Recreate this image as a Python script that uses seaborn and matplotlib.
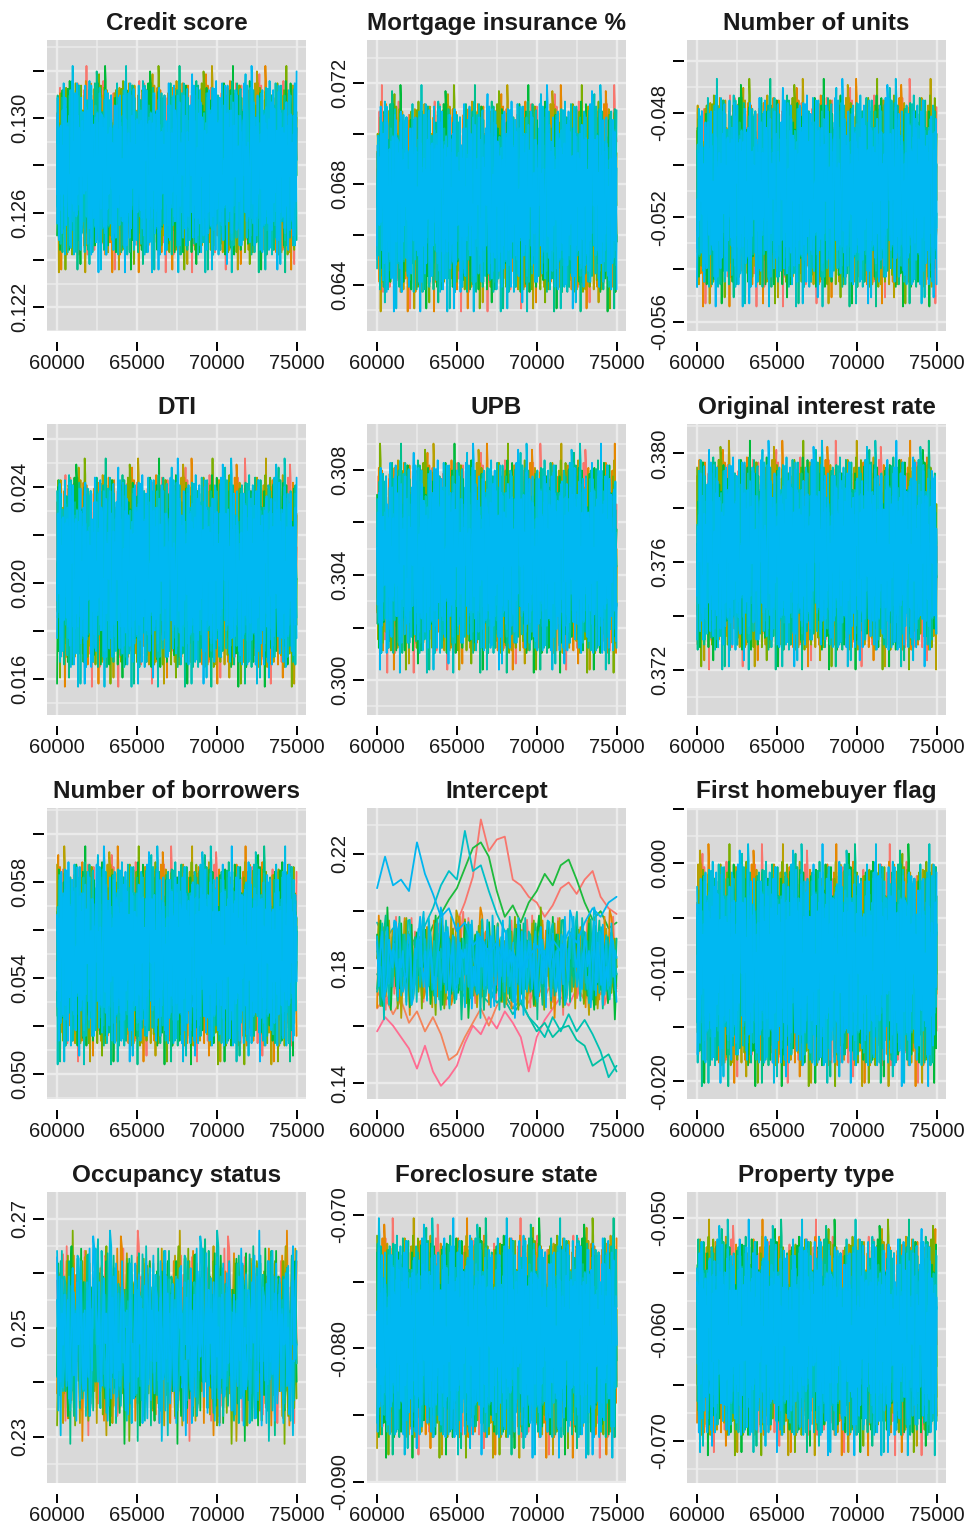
import numpy as np
import pandas as pd
import matplotlib
matplotlib.use("Agg")
import matplotlib.pyplot as plt
from matplotlib.ticker import MultipleLocator
import seaborn as sns

titles = ["Credit score", "Mortgage insurance %", "Number of units",
          "DTI", "UPB", "Original interest rate",
          "Number of borrowers", "Intercept", "First homebuyer flag",
          "Occupancy status", "Foreclosure state", "Property type"]

# centre and spread of the chain band in each panel
centres = [0.1279, 0.0675, -0.0510, 0.0205, 0.3047, 0.3763,
           0.0550, 0.1820, -0.0092, 0.2485, -0.0791, -0.0606]
spreads = [0.00165, 0.00170, 0.00165, 0.00180, 0.00165, 0.00160,
           0.00172, 0.0074, 0.0042, 0.0074, 0.0034, 0.0040]
n_draws = [400, 400, 400, 400, 400, 400, 400, 140, 400, 200, 400, 400]

ylims = [(0.1210, 0.1333), (0.06217, 0.07372), (-0.05636, -0.04521),
         (0.0145, 0.02663), (0.29867, 0.30975), (0.37033, 0.38109),
         (0.04895, 0.06108), (0.1344, 0.2360), (-0.02163, 0.00506),
         (0.22149, 0.27489), (-0.0901, -0.06827), (-0.0738, -0.0477)]
grid_steps = [0.001, 0.001, 0.001, 0.001, 0.001, 0.001,
              0.001, 0.01, 0.0025, 0.005, 0.0025, 0.0025]

yticks = [
    [0.122, 0.124, 0.126, 0.128, 0.130, 0.132],
    [0.064, 0.066, 0.068, 0.070, 0.072],
    [-0.056, -0.054, -0.052, -0.050, -0.048, -0.046],
    [0.016, 0.018, 0.020, 0.022, 0.024, 0.026],
    [0.300, 0.302, 0.304, 0.306, 0.308],
    [0.372, 0.374, 0.376, 0.378, 0.380],
    [0.050, 0.052, 0.054, 0.056, 0.058, 0.060],
    [0.14, 0.16, 0.18, 0.20, 0.22],
    [-0.020, -0.015, -0.010, -0.005, 0.000, 0.005],
    [0.23, 0.24, 0.25, 0.26, 0.27],
    [-0.090, -0.085, -0.080, -0.075, -0.070],
    [-0.070, -0.065, -0.060, -0.055, -0.050],
]
ytick_labels = [
    ["0.122", "", "0.126", "", "0.130", ""],
    ["0.064", "", "0.068", "", "0.072"],
    ["-0.056", "", "-0.052", "", "-0.048", ""],
    ["0.016", "", "0.020", "", "0.024", ""],
    ["0.300", "", "0.304", "", "0.308"],
    ["0.372", "", "0.376", "", "0.380"],
    ["0.050", "", "0.054", "", "0.058", ""],
    ["0.14", "", "0.18", "", "0.22"],
    ["-0.020", "", "-0.010", "", "0.000", ""],
    ["0.23", "", "0.25", "", "0.27"],
    ["-0.090", "", "-0.080", "", "-0.070"],
    ["-0.070", "", "-0.060", "", "-0.050"],
]
xticks = [60000, 65000, 70000, 75000]
xtick_labels = ["60000", "65000", "70000", "75000"]

chain_colours = ["#F8766D", "#E58700", "#B8A000", "#7CAE00",
                 "#00BA38", "#00C08B", "#00C1B8", "#00BCE0", "#00B8F2"]

# hand typed draw codes: first character gives the level, a second one
# (half the string further on) stretches it a little
noise_code = (
    "3821590746182935047612839405726183940512763849021z"
    "5047281936270915836448150279369062471853137496a285"
    "826031749549182063750653829147731405892625961z3847"
    "6102847359347851962092517640384a369285711859042736"
    "7493610582068527391451279a83062740615839z316082457"
    "4281739065695041832717369052488a941275633608257194"
    "0527364918834107925664892130572165849z309723056148"
    "196482037530726954184815z70962753918624052964a8137"
    "268013754991546238700378942615641357z9288047129365"
    "63590428174726183059159283647a39082647517135926084"
    "58316072942z97548316846039175291426873050674319528"
    "47025961836518730942293740581608659123a73490271685"
)
code_levels = {"a": -2.35, "0": -1.95, "1": -1.4, "2": -1.0, "3": -0.6,
               "4": -0.2, "5": 0.2, "6": 0.6, "7": 1.0, "8": 1.4,
               "9": 1.95, "z": 2.35}
code_stretch = {"a": 1.0, "0": 0.86, "1": 0.89, "2": 0.92, "3": 0.95,
                "4": 0.98, "5": 1.02, "6": 1.05, "7": 1.08, "8": 1.11,
                "9": 1.14, "z": 1.0}

# slow wandering chains of the Intercept panel, one value every 500 iterations
intercept_sky = [0.208, 0.219, 0.209, 0.211, 0.207, 0.224, 0.213, 0.206, 0.198, 0.201,
                 0.193, 0.196, 0.188, 0.191, 0.185, 0.189, 0.182, 0.186, 0.179, 0.184,
                 0.188, 0.183, 0.190, 0.186, 0.193, 0.189, 0.196, 0.201, 0.198, 0.203, 0.205]
intercept_teal = [0.196, 0.190, 0.194, 0.187, 0.192, 0.186, 0.195, 0.201, 0.209, 0.214,
                  0.211, 0.228, 0.214, 0.216, 0.207, 0.199, 0.193, 0.188, 0.184, 0.190,
                  0.186, 0.181, 0.187, 0.183, 0.178, 0.184, 0.180, 0.186, 0.182, 0.188, 0.184]
intercept_salmon = [0.172, 0.167, 0.175, 0.170, 0.178, 0.174, 0.181, 0.186, 0.183, 0.190,
                    0.196, 0.203, 0.212, 0.232, 0.221, 0.225, 0.226, 0.211, 0.209, 0.205,
                    0.203, 0.198, 0.202, 0.208, 0.210, 0.206, 0.211, 0.214, 0.205, 0.201, 0.199]
intercept_green = [0.189, 0.183, 0.187, 0.181, 0.186, 0.192, 0.188, 0.195, 0.199, 0.204,
                   0.208, 0.215, 0.222, 0.224, 0.219, 0.207, 0.198, 0.202, 0.196, 0.203,
                   0.207, 0.213, 0.209, 0.216, 0.218, 0.211, 0.203, 0.197, 0.200, 0.194, 0.196]
intercept_pink = [0.158, 0.163, 0.160, 0.156, 0.152, 0.145, 0.153, 0.144, 0.139, 0.142,
                  0.146, 0.154, 0.160, 0.157, 0.163, 0.159, 0.165, 0.161, 0.156, 0.144,
                  0.156, 0.162, 0.166, 0.170, 0.167, 0.173, 0.169, 0.175, 0.171, 0.176, 0.172]
intercept_orange = [0.166, 0.170, 0.164, 0.169, 0.161, 0.165, 0.158, 0.163, 0.157, 0.148,
                    0.150, 0.156, 0.161, 0.166, 0.160, 0.167, 0.171, 0.166, 0.172, 0.168,
                    0.174, 0.170, 0.176, 0.172, 0.178, 0.174, 0.169, 0.175, 0.171, 0.177, 0.173]
intercept_mint = [0.178, 0.174, 0.179, 0.175, 0.180, 0.176, 0.172, 0.177, 0.173, 0.169,
                  0.174, 0.170, 0.175, 0.171, 0.168, 0.173, 0.169, 0.164, 0.168, 0.163,
                  0.158, 0.161, 0.156, 0.159, 0.160, 0.155, 0.153, 0.146, 0.148, 0.150, 0.144]
intercept_aqua = [0.186, 0.181, 0.185, 0.179, 0.184, 0.178, 0.182, 0.176, 0.180, 0.174,
                  0.178, 0.172, 0.176, 0.170, 0.174, 0.168, 0.171, 0.166, 0.169, 0.163,
                  0.160, 0.156, 0.163, 0.158, 0.164, 0.158, 0.162, 0.157, 0.151, 0.142, 0.146]

sns.set_theme(style="dark")
plt.rcParams["font.family"] = ["Liberation Sans", "DejaVu Sans"]
plt.rcParams["axes.unicode_minus"] = False

W, H = 969, 1524
fig = plt.figure(figsize=(W / 100, H / 100), dpi=100)
fig.patch.set_facecolor("white")

col_left = [47, 367, 687]
row_top = [40, 424, 808, 1192]
pw, ph = 259, 291

L = len(noise_code)
levels = np.array([code_levels[ch] for ch in noise_code])
stretch = np.array([code_stretch[ch] for ch in noise_code])
z_all = levels * np.roll(stretch, L // 2)


def noise_chains(p):
    rows = []
    n = n_draws[p]
    its = np.linspace(60000, 75000, n)
    for k in range(len(chain_colours)):
        idx = np.arange(41 * p + 89 * k, 41 * p + 89 * k + n) % L
        vals = centres[p] + spreads[p] * z_all[idx]
        rows.append(pd.DataFrame({"iteration": its, "value": vals, "chain": f"c{k}"}))
    return rows


for p, title in enumerate(titles):
    r, c = divmod(p, 3)
    ax = fig.add_axes([col_left[c] / W, 1 - (row_top[r] + ph) / H, pw / W, ph / H])
    ax.set_facecolor("#D9D9D9")

    frames = noise_chains(p)
    palette = {f"c{k}": col for k, col in enumerate(chain_colours)}
    order = [f"c{k}" for k in range(len(chain_colours))]

    if title == "Intercept":
        its = np.arange(60000, 75001, 500)
        paths = [("pink", intercept_pink, "#FF6C91"),
                 ("orange", intercept_orange, "#F4845A"),
                 ("salmon", intercept_salmon, "#F8766D"),
                 ("green", intercept_green, "#1DBB3C"),
                 ("mint", intercept_mint, "#00C0A3"),
                 ("aqua", intercept_aqua, "#00C1B2"),
                 ("teal", intercept_teal, "#00BFC8")]
        for name, vals, col in paths:
            frames.insert(0, pd.DataFrame({"iteration": its, "value": vals, "chain": name}))
            palette[name] = col
        order = [n for n, _, _ in paths] + order
        frames.append(pd.DataFrame({"iteration": its, "value": intercept_sky, "chain": "sky"}))
        palette["sky"] = "#00B6F0"
        order.append("sky")

    df = pd.concat(frames, ignore_index=True)
    sns.lineplot(data=df, x="iteration", y="value", hue="chain", hue_order=order,
                 palette=palette, estimator=None, sort=False, legend=False,
                 lw=1.3, ax=ax)

    ax.set_xlim(59370, 75590)
    ax.set_ylim(*ylims[p])
    ax.set_xlabel("")
    ax.set_ylabel("")

    # spines first: moving them rebuilds the ticks
    for s in ax.spines.values():
        s.set_color("none")
    ax.spines["left"].set_position(("outward", 2.2))
    ax.spines["bottom"].set_position(("outward", 8.2))

    ax.set_xticks(xticks)
    ax.set_xticklabels(xtick_labels)
    ax.set_yticks(yticks[p])
    ax.set_yticklabels(ytick_labels[p])
    ax.xaxis.set_minor_locator(MultipleLocator(2500))
    ax.yaxis.set_minor_locator(MultipleLocator(grid_steps[p]))

    ax.grid(which="major", color="#EBEBEB", lw=1.7)
    ax.grid(which="minor", color="#EBEBEB", lw=1.1)
    ax.set_axisbelow(True)

    ax.tick_params(axis="y", which="major", left=True, length=7.9, width=1.4,
                   color="black", pad=3, labelsize=14.5, labelcolor="#1a1a1a",
                   labelrotation=90)
    ax.tick_params(axis="x", which="major", bottom=True, length=6.5, width=1.4,
                   color="black", pad=1.8, labelsize=14.5, labelcolor="#1a1a1a")
    ax.tick_params(which="minor", length=0)
    plt.setp(ax.get_yticklabels(), va="center")

    ax.set_title(title, fontsize=17.5, fontweight="bold", pad=7, color="#1a1a1a")

fig.savefig("out.png", dpi=100)
